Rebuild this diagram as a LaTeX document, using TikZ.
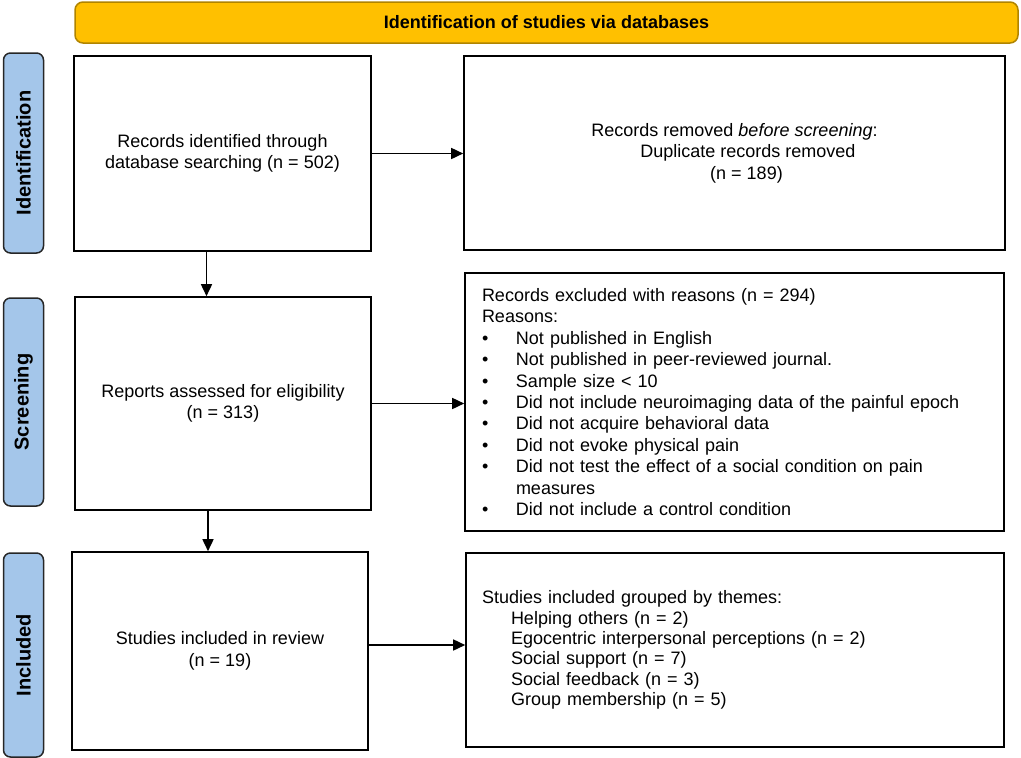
\documentclass[tikz,border=0pt]{standalone}
\usepackage{fontspec}
\setmainfont{Liberation Sans}
\usetikzlibrary{arrows.meta}
\definecolor{bannergold}{HTML}{FFC000}
\definecolor{bannerdark}{HTML}{B08400}
\definecolor{sideblue}{HTML}{A4C6EA}
\newcommand{\bitem}{\makebox[34pt][l]{\textbullet}}
\begin{document}
\begin{tikzpicture}[x=1pt,y=-1pt,
  box/.style={draw=black, line width=1.6pt, inner sep=0pt, align=center,
    font=\fontsize{18}{21.4}\selectfont},
  side/.style={draw=black!85, fill=sideblue, line width=1.5pt, rounded corners=7pt,
    rotate=90, inner sep=0pt, minimum height=40pt,
    font=\bfseries\fontsize{20}{24}\selectfont},
  arr/.style={line width=1.6pt, -{Triangle[length=12pt,width=11pt]}}]
\useasboundingbox (0,0) rectangle (1021,758);

% banner
\node[draw=bannerdark, fill=bannergold, line width=1.5pt, rounded corners=8pt,
  minimum width=943pt, minimum height=41pt, inner sep=0pt,
  font=\bfseries\fontsize{18}{21}\selectfont] (banner) at (546.5,22.5)
  {Identification of studies via databases};

% side labels
\node[side, minimum width=200pt] (sideid) at (23.5,153) {Identification};
\node[side, minimum width=208pt] (sidescr) at (23.5,402) {Screening};
\node[side, minimum width=204pt] (sideinc) at (23.5,655) {Included};

% boxes
\node[box, minimum width=297pt, minimum height=195pt] (box1) at (222.5,153.5)
  {Records identified through\\database searching (n = 502)};
\node[box, minimum width=541pt, minimum height=194pt] (box2) at (734.5,153)
  {Records removed \textit{before screening}:\\\hspace*{27pt}Duplicate records removed\\\hspace*{24pt}(n = 189)};
\node[box, minimum width=296pt, minimum height=213pt] (box3) at (223,403.5)
  {Reports assessed for eligibility\\(n = 313)};
\node[box, minimum width=539pt, minimum height=258pt, text width=505pt, align=left] (box4) at (734.5,402)
  {Records excluded with reasons (n = 294)\\
   Reasons:\\
   \bitem Not published in English\\
   \bitem Not published in peer-reviewed journal.\\
   \bitem Sample size < 10\\
   \bitem Did not include neuroimaging data of the painful epoch\\
   \bitem Did not acquire behavioral data\\
   \bitem Did not evoke physical pain\\
   \bitem Did not test the effect of a social condition on pain\\
   \hspace*{34pt}measures\\
   \bitem Did not include a control condition};
\node[box, minimum width=296pt, minimum height=198pt] (box5) at (220,651)
  {Studies included in review\\(n = 19)};
\node[box, minimum width=538pt, minimum height=194pt, text width=506pt, align=left,
  font=\fontsize{18}{20.4}\selectfont] (box6) at (735,650)
  {Studies included grouped by themes:\\
   \hspace*{29pt}Helping others (n = 2)\\
   \hspace*{29pt}Egocentric interpersonal perceptions (n = 2)\\
   \hspace*{29pt}Social support (n = 7)\\
   \hspace*{29pt}Social feedback (n = 3)\\
   \hspace*{29pt}Group membership (n = 5)};

% connectors
\draw[arr] (box1.east) -- (box1.east -| box2.west);
\draw[arr] ([xshift=-16pt]box1.south) -- ([xshift=-16pt]box1.south |- box3.north);
\draw[arr] (box3.east) -- (box3.east -| box4.west);
\draw[arr] ([xshift=-15pt]box3.south) -- ([xshift=-15pt]box3.south |- box5.north);
\draw[arr] ([yshift=6pt]box5.east) -- ([yshift=6pt]box5.east -| box6.west);
\end{tikzpicture}
\end{document}
